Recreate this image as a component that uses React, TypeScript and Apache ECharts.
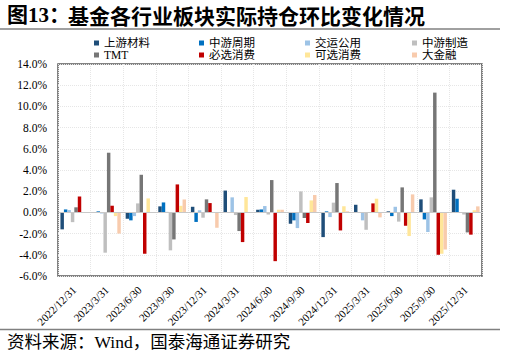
import React, { useEffect, useRef } from "react";
import * as echarts from "echarts";

const categories = [
  "2022/12/31", "2023/3/31", "2023/6/30", "2023/9/30", "2023/12/31",
  "2024/3/31", "2024/6/30", "2024/9/30", "2024/12/31", "2025/3/31",
  "2025/6/30", "2025/9/30", "2025/12/31",
];

const seriesNames = ["上游材料", "中游周期", "交运公用", "中游制造", "TMT", "必选消费", "可选消费", "大金融"];

const upstream = [-1.6, 0.0, -0.6, 0.57, 0.53, 2.06, 0.25, -1.07, -2.33, 0.72, 0.1, 1.23, 2.14];
const midCycle = [0.28, 0.1, -0.75, 0.94, -0.9, 0.0, 0.28, -0.75, 0.1, -0.05, -0.35, -0.66, 1.29];
const transport = [0.22, -0.1, -0.35, 0.05, 0.2, 1.42, 0.6, -1.48, -0.44, -0.75, 0.53, -1.85, 0.0];
const midManu = [-0.92, -3.8, 0.85, -3.58, -0.5, -0.25, -0.2, 1.98, 0.92, -1.64, -0.87, 1.42, -0.2];
const tmt = [0.48, 5.63, 3.55, -2.55, 1.23, -1.76, 3.05, -0.53, 2.77, 0.0, 2.36, 11.3, -1.89];
const staples = [1.5, 0.63, -3.9, 2.64, 0.88, -2.8, -4.6, -1.0, -1.7, 0.85, -1.26, -4.0, -2.1];
const discretionary = [0.0, -0.35, 1.32, 0.62, 0.0, 1.45, 0.25, 1.13, 0.58, 1.29, -2.23, -3.9, 0.2];
const financials = [0.0, -2.0, -0.05, 1.22, -1.45, -0.05, 0.25, 1.64, 0.1, -0.47, 1.7, -3.5, 0.57];

const seriesValues = [upstream, midCycle, transport, midManu, tmt, staples, discretionary, financials];
const colors = ["#1f4e79", "#0070c0", "#9dc3e6", "#bfbfbf", "#767676", "#c00000", "#ffe699", "#f8cbad"];

const yTicks = { min: -6, max: 14, interval: 2 };

const legendColumns = [
  { left: 94, names: ["上游材料", "TMT"] },
  { left: 199, names: ["中游周期", "必选消费"] },
  { left: 305, names: ["交运公用", "可选消费"] },
  { left: 412, names: ["中游制造", "大金融"] },
];

const SERIF = "'Liberation Serif', 'Times New Roman', 'Noto Sans CJK SC', serif";

export default function App() {
  const ref = useRef<HTMLDivElement>(null);
  useEffect(() => {
    if (!ref.current) return;
    const chart = echarts.init(ref.current, undefined, { renderer: "svg" });
    const series: any[] = seriesNames.map((name, i) => ({
      name,
      type: "bar",
      data: seriesValues[i],
      barGap: "0%",
      barCategoryGap: "15%",
      itemStyle: { color: colors[i] },
      ...(i === 0
        ? {
            markLine: {
              silent: true,
              symbol: "none",
              label: { show: false },
              lineStyle: { color: "#c8c8c8", type: "solid", width: 1 },
              data: [{ yAxis: 0 }],
            },
          }
        : {}),
    }));
    chart.setOption({
      animation: false,
      color: colors,
      grid: {
        left: 58,
        top: 64,
        right: 24,
        bottom: 87,
        show: true,
        borderColor: "#595959",
        borderWidth: 1.5,
        backgroundColor: "transparent",
      },
      legend: legendColumns.map((c) => ({
        left: c.left,
        top: 37,
        orient: "vertical",
        padding: 0,
        itemGap: 0,
        itemWidth: 5,
        itemHeight: 5,
        icon: "rect",
        data: c.names,
        textStyle: { fontSize: 11.5, lineHeight: 12, color: "#000", fontFamily: SERIF },
      })),
      xAxis: {
        type: "category",
        data: categories,
        boundaryGap: true,
        axisLine: { show: false, onZero: false },
        axisTick: { show: false },
        splitLine: { show: true, lineStyle: { color: "#e6e6e6", type: "dotted", width: 1 } },
        axisLabel: {
          rotate: 45,
          margin: 12,
          interval: 0,
          fontSize: 11,
          color: "#000",
          fontFamily: SERIF,
        },
      },
      yAxis: {
        type: "value",
        min: yTicks.min,
        max: yTicks.max,
        interval: yTicks.interval,
        axisLine: { show: false },
        axisTick: { show: false },
        splitLine: { show: true, lineStyle: { color: "#e6e6e6", type: "dotted", width: 1 } },
        axisLabel: {
          margin: 11,
          fontSize: 11.5,
          color: "#000",
          fontFamily: SERIF,
          formatter: (v: number) => v.toFixed(1) + "%",
        },
      },
      series,
      graphic: [
        {
          type: "text",
          left: 7,
          top: 4,
          style: {
            text: "图13：",
            font: "bold 21px " + SERIF,
            fill: "#000",
          },
        },
        {
          type: "text",
          left: 68,
          top: 4,
          style: {
            text: "基金各行业板块实际持仓环比变化情况",
            font: "bold 21px 'Noto Sans CJK SC', sans-serif",
            fill: "#000",
          },
        },
        {
          type: "line",
          shape: { x1: 0, y1: 29, x2: 500, y2: 29 },
          style: { stroke: "#808080", lineWidth: 1.5 },
        },
        {
          type: "line",
          shape: { x1: 0, y1: 329.5, x2: 500, y2: 329.5 },
          style: { stroke: "#808080", lineWidth: 1.5 },
        },
        {
          type: "text",
          left: 7,
          top: 333,
          style: {
            text: "资料来源：Wind，国泰海通证券研究",
            font: "17.5px " + SERIF,
            fill: "#000",
          },
        },
      ],
    });
    return () => chart.dispose();
  }, []);
  return (
    <div
      ref={ref}
      style={{ position: "fixed", left: 0, top: 0, width: 506, height: 363, background: "#fff" }}
    />
  );
}
